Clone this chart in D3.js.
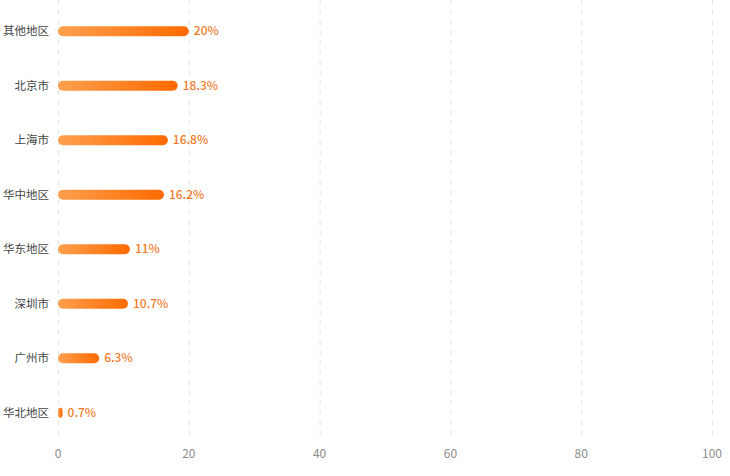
<!DOCTYPE html>
<html><head><meta charset="utf-8">
<script src="https://cdn.jsdelivr.net/npm/d3@7"></script>
<style>body{margin:0;background:#fff;}svg{display:block;font-family:"Noto Sans CJK SC","Noto Sans",sans-serif;}</style>
</head><body>
<svg id="c" width="730" height="476"></svg>
<script>
const categories = ["其他地区","北京市","上海市","华中地区","华东地区","深圳市","广州市","华北地区"];
const values = [20,18.3,16.8,16.2,11,10.7,6.3,0.7];
const xTicks = [0,20,40,60,80,100];

const svg = d3.select("#c");
const x = d3.scaleLinear().domain([0,100]).range([58,712]);
const y = d3.scaleBand().domain(categories).range([4,440]);

const defs = svg.append("defs");
const g = defs.append("linearGradient").attr("id","grad").attr("x1","0%").attr("x2","100%");
g.append("stop").attr("offset","0%").attr("stop-color","#ffa04f");
g.append("stop").attr("offset","100%").attr("stop-color","#ff6a00");

// grid
svg.append("g").selectAll("line").data(xTicks).join("line")
  .attr("x1",d=>x(d)+0.5).attr("x2",d=>x(d)+0.5).attr("y1",0).attr("y2",440)
  .attr("stroke","#e6e6e6").attr("stroke-dasharray","5,5").attr("stroke-width",1);

// x axis labels
svg.append("g").selectAll("text").data(xTicks).join("text")
  .attr("x",d=>x(d)).attr("y",458).attr("text-anchor","middle")
  .attr("font-size",12).attr("fill","#8c8c8c").text(d=>d);

// category labels
svg.append("g").selectAll("text").data(categories).join("text")
  .attr("x",49).attr("y",d=>y(d)+y.bandwidth()/2).attr("dy","0.35em")
  .attr("text-anchor","end").attr("font-size",11.5).attr("fill","#444").text(d=>d);

const bh = 10;
const data = categories.map((c,i)=>({c,v:values[i]}));
svg.append("g").selectAll("rect").data(data).join("rect")
  .attr("x",x(0)).attr("y",d=>y(d.c)+y.bandwidth()/2-bh/2)
  .attr("width",d=>Math.max(x(d.v)-x(0),4)).attr("height",bh)
  .attr("rx",d=>Math.min(bh/2,(x(d.v)-x(0))/2)).attr("fill","url(#grad)");

svg.append("g").selectAll("text").data(data).join("text")
  .attr("x",d=>Math.max(x(d.v),x(0)+4)+5).attr("y",d=>y(d.c)+y.bandwidth()/2).attr("dy","0.35em")
  .attr("font-size",12).attr("font-weight",500).attr("fill","#f07a28").text(d=>d.v+"%");
</script>
</body></html>
